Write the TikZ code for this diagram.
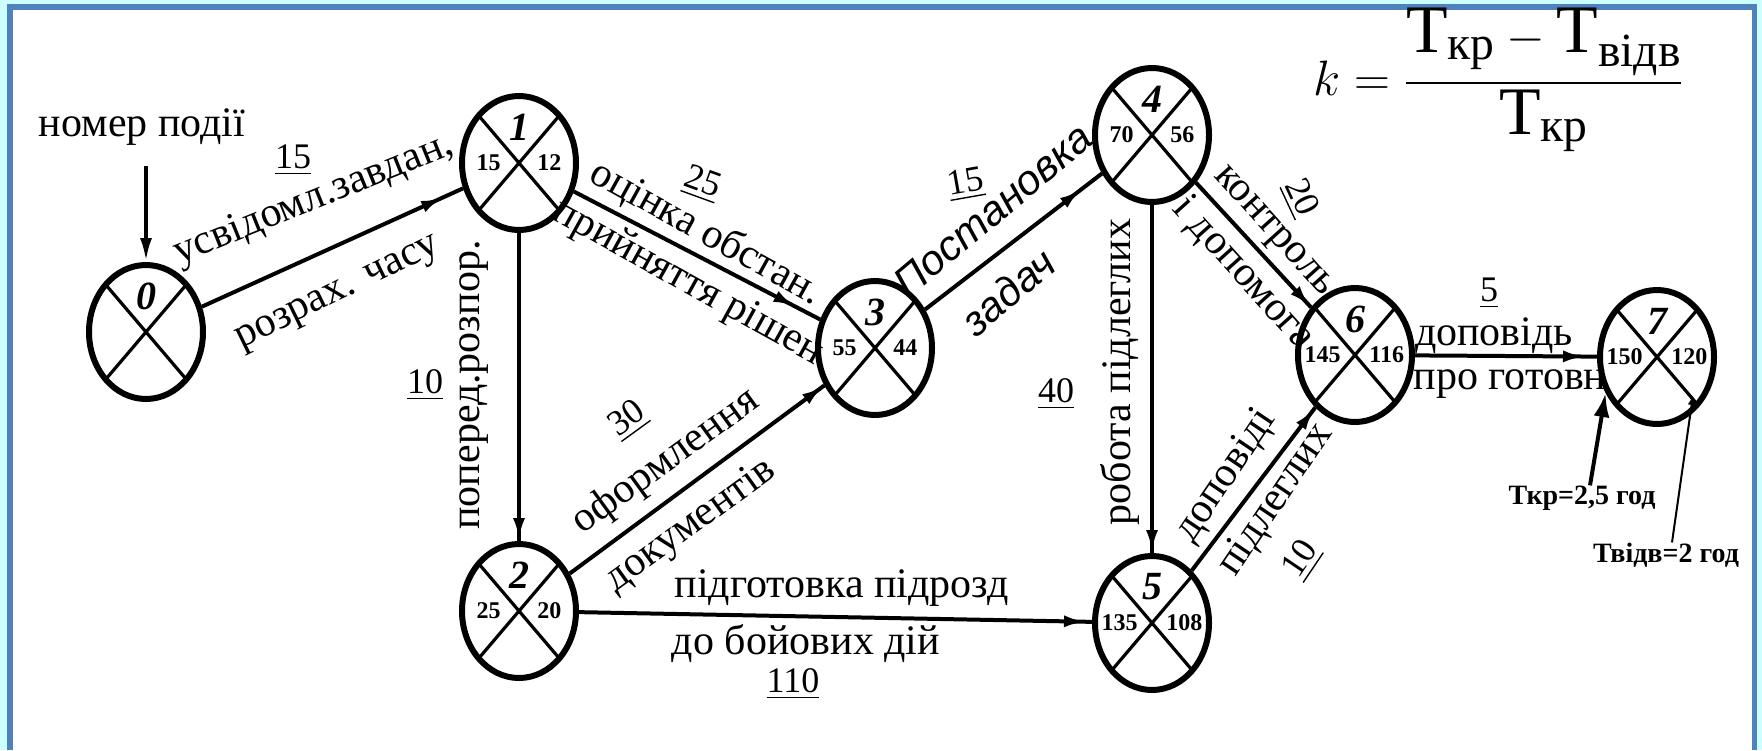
\documentclass[tikz,border=0pt]{standalone}
\usepackage{amsmath}
\usepackage{fontspec}
\setmainfont{Liberation Serif}
\setsansfont{Liberation Sans}
\usetikzlibrary{shapes.geometric, arrows.meta, decorations.markings}
\definecolor{framecyan}{RGB}{204,255,255}
\definecolor{frameblue}{RGB}{79,129,189}

\begin{document}
\begin{tikzpicture}[
    x=0.5pt, y=-0.5pt,               % 1 unit = 1 px of the 1762x750 sheet
    event/.style={ellipse, draw, line width=3pt, fill=white,
                  minimum width=57pt, minimum height=67pt, inner sep=0pt,
                  path picture={\draw[line width=1.6pt]
                      (path picture bounding box.north west) -- (path picture bounding box.south east)
                      (path picture bounding box.north east) -- (path picture bounding box.south west);}},
    evnum/.style={font=\fontsize{20}{20}\selectfont\bfseries\itshape, inner sep=0pt},
    evtime/.style={font=\fontsize{12}{12}\selectfont\bfseries, inner sep=0pt},
    lbl/.style={font=\fontsize{21}{21}\selectfont, inner sep=0pt},
    dur/.style={font=\fontsize{18}{18}\selectfont, inner sep=0pt},
    note/.style={font=\fontsize{14}{14}\selectfont\bfseries, inner sep=0pt},
    arrow/.style={line width=2pt, postaction={decorate},
                  decoration={markings, mark=at position #1 with
                              {\arrow{Latex[length=11pt, width=6pt]}}}},
    arrow/.default=-0.5pt
]

% sheet and frame
\fill[framecyan] (0,0) rectangle (1762,750);
\fill[white] (13,10) rectangle (1752,750);
\fill[frameblue] (7,4) rectangle (1757,10);
\fill[frameblue] (7,4) rectangle (13,750);
\fill[frameblue] (1752,4) rectangle (1757,750);
\useasboundingbox (0,0) rectangle (1762,750);

% events
\node[event] (e0) at (146,332) {};
\node[event] (e1) at (519,163) {};
\node[event] (e2) at (519,611) {};
\node[event] (e3) at (875,348) {};
\node[event] (e4) at (1152,135) {};
\node[event] (e5) at (1152,623) {};
\node[event] (e6) at (1355,355) {};
\node[event] (e7) at (1657,357) {};

\node[evnum] (e0n) at ([yshift=18pt]e0.center) {0};
\node[evnum] (e1n) at ([yshift=18pt]e1.center) {1};
\node[evtime, anchor=east] (e1l) at ([xshift=-9pt]e1.center) {15};
\node[evtime, anchor=west] (e1r) at ([xshift=9pt]e1.center)  {12};
\node[evnum] (e2n) at ([yshift=18pt]e2.center) {2};
\node[evtime, anchor=east] (e2l) at ([xshift=-9pt]e2.center) {25};
\node[evtime, anchor=west] (e2r) at ([xshift=9pt]e2.center)  {20};
\node[evnum] (e3n) at ([yshift=18pt]e3.center) {3};
\node[evtime, anchor=east] (e3l) at ([xshift=-9pt]e3.center) {55};
\node[evtime, anchor=west] (e3r) at ([xshift=9pt]e3.center)  {44};
\node[evnum] (e4n) at ([yshift=18pt]e4.center) {4};
\node[evtime, anchor=east] (e4l) at ([xshift=-9pt]e4.center) {70};
\node[evtime, anchor=west] (e4r) at ([xshift=9pt]e4.center)  {56};
\node[evnum] (e5n) at ([yshift=18pt]e5.center) {5};
\node[evtime, anchor=east] (e5l) at ([xshift=-7pt]e5.center) {135};
\node[evtime, anchor=west] (e5r) at ([xshift=7pt]e5.center)  {108};
\node[evnum] (e6n) at ([yshift=18pt]e6.center) {6};
\node[evtime, anchor=east] (e6l) at ([xshift=-7pt]e6.center) {145};
\node[evtime, anchor=west] (e6r) at ([xshift=7pt]e6.center)  {116};
\node[evnum] (e7n) at ([yshift=18pt]e7.center) {7};
\node[evtime, anchor=east] (e7l) at ([xshift=-7pt]e7.center) {150};
\node[evtime, anchor=west] (e7r) at ([xshift=7pt]e7.center)  {120};

% work labels
\node[lbl] (evtag) at (142,127) {номер події};
\node[dur] (d01) at (293,160) {\underline{15}};
\node[lbl, rotate=22] (t01a) at (314,200) {усвідомл.завдан,};
\node[lbl, rotate=26] (t01b) at (339,295) {розрах. часу};
\node[dur] (d12) at (425,385) {\underline{10}};
\node[lbl, rotate=90] (t12) at (474,385) {поперед.розпор.};
\node[dur, rotate=-20] (d13) at (702,184) {\underline{25}};
\node[lbl, rotate=-29] (t13a) at (706,233) {оцінка обстан.};
\node[lbl, rotate=-29] (t13b) at (688,283) {прийняття рішен};
\node[dur, rotate=36] (d23) at (628,420) {\underline{30}};
\node[lbl, rotate=36] (t23a) at (666,462) {оформлення};
\node[lbl, rotate=36] (t23b) at (691,526) {документів};
\node[lbl] (t25a) at (842,588) {підготовка підрозд};
\node[lbl] (t25b) at (806,644) {до бойових дій};
\node[dur] (d25) at (793,684) {\underline{110}};
\node[dur, rotate=10] (d34) at (966,184) {\underline{15}};
\node[lbl, rotate=40, font=\fontsize{21}{21}\selectfont\sffamily\itshape] (t34a) at (993,210) {Постановка};
\node[lbl, rotate=40, font=\fontsize{21}{21}\selectfont\sffamily\itshape] (t34b) at (1008,292) {задач};
\node[dur] (d45) at (1056,394) {\underline{40}};
\node[lbl, rotate=90] (t45) at (1120,372) {робота підлеглих};
\node[dur, rotate=-65] (d46) at (1300,198) {\underline{20}};
\node[lbl, rotate=-48] (t46a) at (1272,233) {контроль};
\node[lbl, rotate=-48] (t46b) at (1243,274) {і допомога};
\node[lbl, rotate=56] (t56a) at (1226,476) {доповіді};
\node[lbl, rotate=56] (t56b) at (1276,500) {підлеглих};
\node[dur, rotate=56] (d56) at (1302,560) {\underline{10}};
\node[dur] (d67) at (1489,293) {\underline{5}};
\node[lbl] (t67a) at (1494,336) {доповідь};
\node[lbl] (t67b) at (1510,384) {про готовн};

% formula and time notes
\node[anchor=west, inner sep=0pt, font=\fontsize{34}{34}\selectfont] (kform) at (1313,80)
    {$k=\dfrac{\text{Т}_{\text{кр}}-\text{Т}_{\text{відв}}}{\text{Т}_{\text{кр}}}$};
\node[note] (tkr)   at (1582,498) {Ткр=2,5 год};
\node[note] (tvidv) at (1666,555) {Твідв=2 год};
\coordinate (t7) at ([xshift=18pt, yshift=-19pt]e7.center);

% works
\draw[arrow=-11pt] (e0) -- (e1);
\draw[arrow]       (e1) -- (e2);
\draw[arrow=-14pt] (e1) -- (e3);
\draw[arrow]       (e2) -- (e3);
\draw[arrow=-3pt]  (e2) -- (e5);
\draw[arrow=-13pt] (e3) -- (e4);
\draw[arrow]       (e4) -- (e5);
\draw[arrow]       (e4) -- (e6);
\draw[arrow]       (e5) -- (e6);
\draw[arrow=-6pt]  (e6) -- (e7);

\draw[line width=2pt, -{Latex[length=12pt, width=6pt]}, shorten <=10pt]
    (evtag.south -| e0.north) -- (e0.north);
\draw[line width=2pt, -{Latex[length=12pt, width=8pt]}] ([xshift=4pt]tkr.north) -- (e7.215);
\draw[line width=1pt, -{Latex[length=5pt, width=4pt]}] ([xshift=3pt]tvidv.north) -- (t7);
\end{tikzpicture}
\end{document}
